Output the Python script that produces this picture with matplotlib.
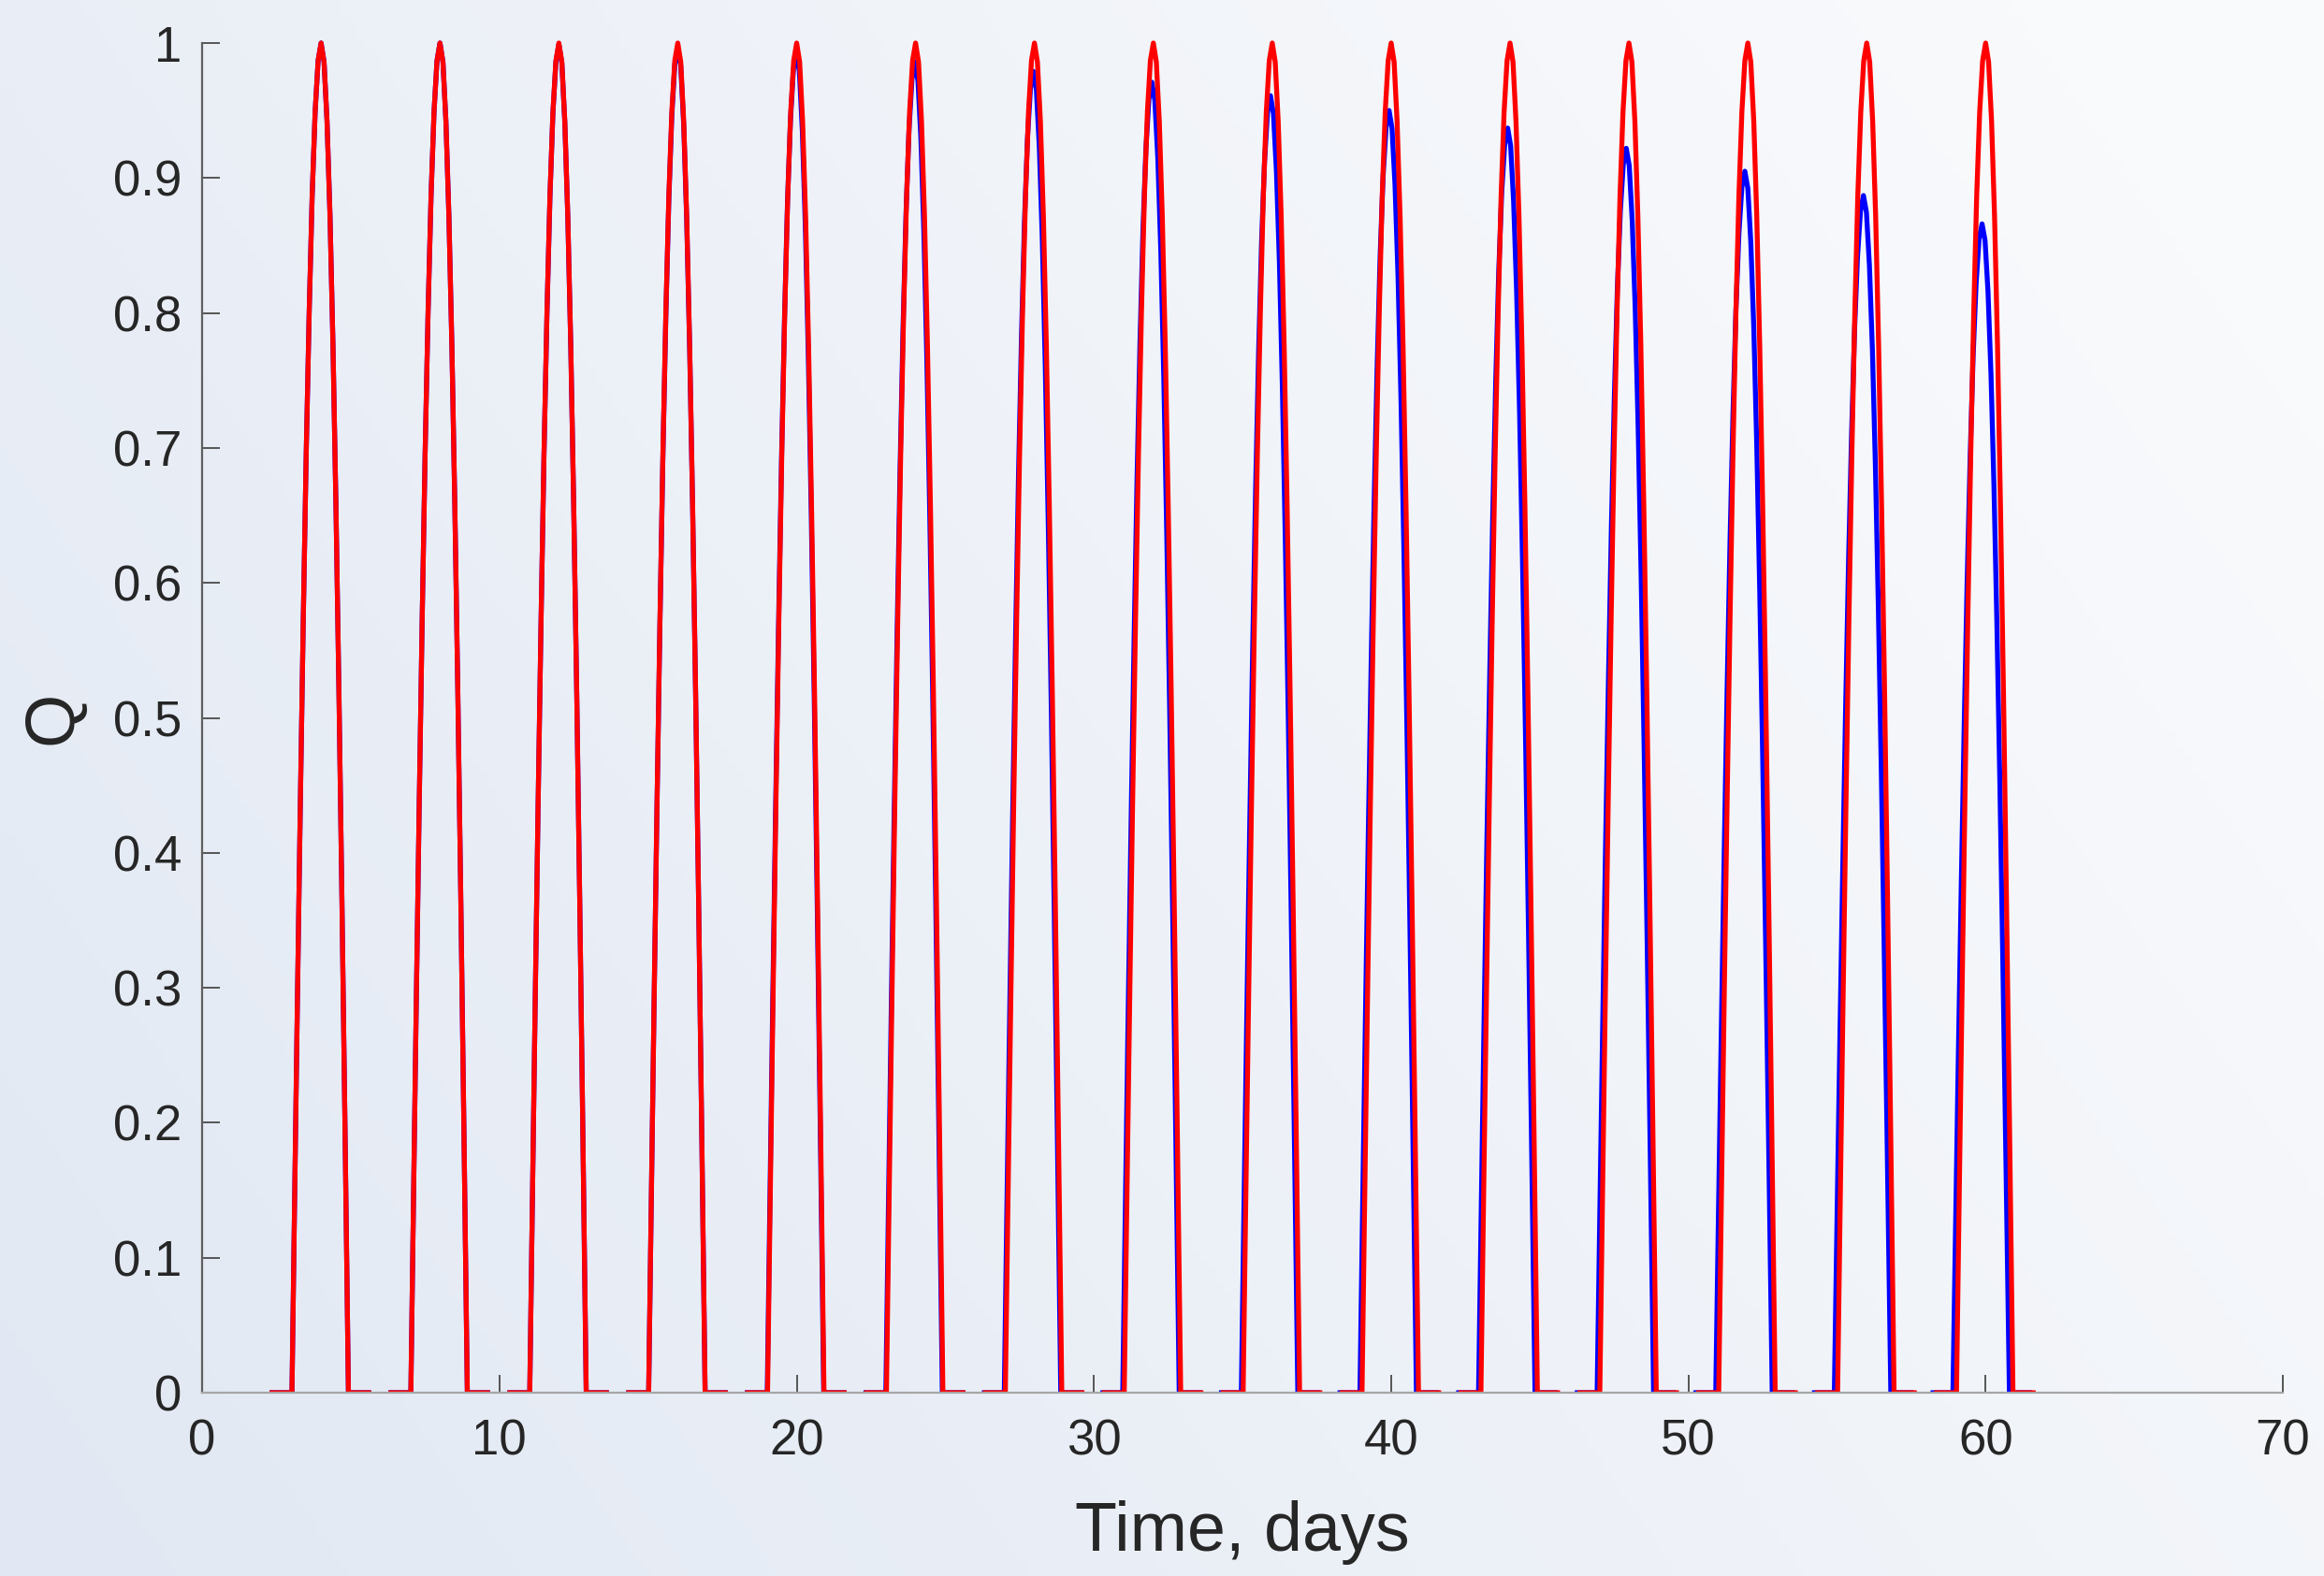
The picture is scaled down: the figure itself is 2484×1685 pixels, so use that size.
import numpy as np
import matplotlib.pyplot as plt
from matplotlib.patches import Rectangle

plt.rcParams['font.family'] = ['Liberation Sans', 'DejaVu Sans']

# shape of one dosing pulse: days from the peak and Q
pulse_dt = [-1.65, -0.98, -0.9, -0.8, -0.7, -0.6, -0.5, -0.4, -0.3, -0.2, -0.1,
            0.0, 0.1, 0.2, 0.3, 0.4, 0.5, 0.6, 0.7, 0.8, 0.9, 0.92, 1.6]
pulse_q = [0.0, 0.0, 0.128, 0.285, 0.434, 0.572, 0.696, 0.801, 0.887, 0.949, 0.987,
           1.0, 0.986, 0.942, 0.872, 0.776, 0.657, 0.520, 0.367, 0.204, 0.034, 0.0, 0.0]

# reference run: every pulse reaches Q = 1
red_peaks = [4, 8, 12, 16, 20, 24, 28, 32, 36, 40, 44, 48, 52, 56, 60]

# second run: peaks drift earlier and lose height
blue_peaks = [4.0, 8.0, 12.0, 16.0, 19.99, 23.98, 27.965, 31.95, 35.94, 39.93,
              43.92, 47.91, 51.90, 55.89, 59.88]
blue_heights = [1.0, 1.0, 0.999, 0.997, 0.993, 0.986, 0.979, 0.971, 0.961, 0.950,
                0.937, 0.922, 0.905, 0.887, 0.866]

x_ticks = [0, 10, 20, 30, 40, 50, 60, 70]
y_ticks = [0, 0.1, 0.2, 0.3, 0.4, 0.5, 0.6, 0.7, 0.8, 0.9, 1]
y_tick_labels = ['0', '0.1', '0.2', '0.3', '0.4', '0.5', '0.6', '0.7', '0.8', '0.9', '1']

fig = plt.figure(figsize=(24.84, 16.85), dpi=100)

# soft bluish backdrop, lighter towards the upper right
bg = fig.add_axes([0, 0, 1, 1], zorder=-10)
gx, gy = np.meshgrid(np.linspace(0, 1, 300), np.linspace(0, 1, 200))
w = np.clip(0.75 * gx + 0.35 * (1 - gy), 0, 1)[..., None]
c0 = np.array([225, 232, 243]) / 255.0
c1 = np.array([249, 250, 252]) / 255.0
bg.imshow(c0 + (c1 - c0) * w, aspect='auto', origin='upper', extent=[0, 1, 0, 1])
bg.set_axis_off()

ax = fig.add_axes([0.087, 0.1163, 0.8953, 0.8564])
ax.set_facecolor('none')

clip = Rectangle((0, 0), 1, 1.03, transform=ax.transAxes)

for pk, h in zip(blue_peaks, blue_heights):
    ln, = ax.plot(np.add(pk, pulse_dt), np.multiply(h, pulse_q), color='#0000ff', lw=3.8)
    ln.set_clip_path(clip)

for pk in red_peaks:
    ln, = ax.plot(np.add(pk, pulse_dt), pulse_q, color='#ff0000', lw=3.8)
    ln.set_clip_path(clip)

ax.set_xlim(0, 70)
ax.set_ylim(0, 1)
ax.set_xticks(x_ticks)
ax.set_yticks(y_ticks)
ax.set_yticklabels(y_tick_labels)

for side in ['top', 'right']:
    ax.spines[side].set_visible(False)
ax.spines['left'].set_color('#5f5f5f')
ax.spines['left'].set_linewidth(1.6)
ax.spines['bottom'].set_color('#a6a6a6')
ax.spines['bottom'].set_linewidth(1.6)

ax.tick_params(axis='both', direction='in', length=14, width=1.4, color='#555555',
               labelsize=38, labelcolor='#262626')
ax.tick_params(axis='x', pad=20)
ax.tick_params(axis='y', pad=16)

ax.set_xlabel('Time, days', fontsize=53, color='#262626')
ax.set_ylabel('Q', fontsize=53, color='#262626')
ax.xaxis.set_label_coords(0.5, -0.08)
ax.yaxis.set_label_coords(-0.056, 0.5)

fig.savefig('out.png', dpi=100)
